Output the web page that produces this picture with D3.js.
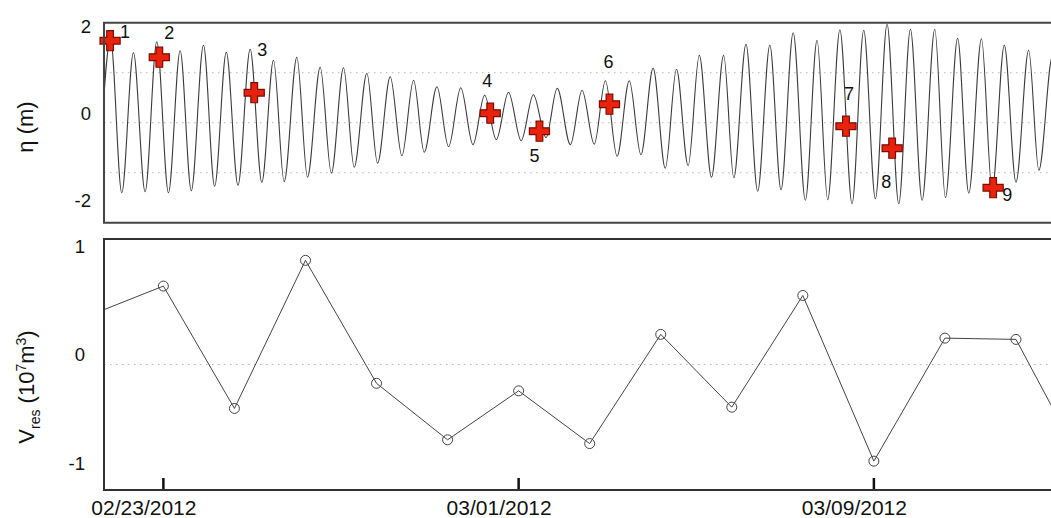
<!DOCTYPE html>
<html>
<head>
<meta charset="utf-8">
<script src="https://cdn.jsdelivr.net/npm/d3@7"></script>
<style>
  html, body { margin: 0; padding: 0; background: #fff; }
  svg { display: block; font-family: "Liberation Sans", Arial, Helvetica, sans-serif; }
</style>
</head>
<body>
<svg id="chart" width="1051" height="518"></svg>
<script>
// ---- data -------------------------------------------------------------
// time axis in days after 02/23/2012 00:00
const dateTickDays = [0, 7, 14];
const dateTickLabels = ["02/23/2012", "03/01/2012", "03/09/2012"];

// water level extrema (high / low waters), days and metres
const tideDays = [
  -1.28, -1.04, -0.82, -0.59, -0.36, -0.13, 0.10, 0.33, 0.55, 0.79,
  1.01, 1.24, 1.47, 1.71, 1.94, 2.17, 2.38, 2.63, 2.84, 3.09,
  3.31, 3.55, 3.76, 4.01, 4.22, 4.47, 4.70, 4.93, 5.14, 5.39,
  5.62, 5.86, 6.10, 6.33, 6.56, 6.80, 7.05, 7.29, 7.54, 7.76,
  8.02, 8.25, 8.49, 8.71, 8.94, 9.18, 9.41, 9.65, 9.89, 10.11,
  10.34, 10.56, 10.80, 11.04, 11.24, 11.48, 11.71, 11.95, 12.17, 12.41,
  12.65, 12.88, 13.09, 13.33, 13.57, 13.80, 14.03, 14.26, 14.49, 14.72,
  14.95, 15.20, 15.41, 15.65, 15.87, 16.12, 16.33, 16.57, 16.80, 17.05,
  17.25, 17.52, 17.75
];
const tideLevel = [
  -1.30, 1.66, -1.40, 1.40, -1.38, 1.62, -1.40, 1.44, -1.36, 1.55,
  -1.27, 1.41, -1.25, 1.47, -1.19, 1.25, -1.18, 1.31, -1.09, 1.11,
  -1.01, 1.10, -0.89, 0.99, -0.81, 0.92, -0.66, 0.85, -0.59, 0.72,
  -0.48, 0.70, -0.44, 0.55, -0.34, 0.61, -0.36, 0.56, -0.30, 0.69,
  -0.44, 0.65, -0.43, 0.84, -0.67, 0.84, -0.64, 1.09, -0.91, 1.07,
  -0.86, 1.35, -1.09, 1.35, -1.10, 1.57, -1.37, 1.55, -1.34, 1.80,
  -1.55, 1.65, -1.54, 1.86, -1.62, 1.85, -1.52, 1.97, -1.62, 1.87,
  -1.55, 1.87, -1.50, 1.69, -1.41, 1.68, -1.35, 1.55, -1.19, 1.45,
  -0.95, 1.33, -0.90
];

// numbered sampling instants on the water level record
const sampleIds = ["1", "2", "3", "4", "5", "6", "7", "8", "9"];
const sampleDays = [-1.05, -0.08, 1.79, 6.44, 7.41, 8.79, 13.45, 14.36, 16.35];
const sampleLevel = [1.64, 1.31, 0.60, 0.19, -0.17, 0.37, -0.07, -0.51, -1.30];

// residual volume per tidal interval (10^7 m^3)
const volDays = [-1.4, 0, 1.4, 2.8, 4.2, 5.6, 7.0, 8.4, 9.8, 11.2, 12.6, 14.0, 15.4, 16.8, 18.2];
const volRes = [0.40, 0.625, -0.35, 0.83, -0.15, -0.60, -0.21, -0.63, 0.24, -0.34, 0.55, -0.77, 0.21, 0.20, -0.86];

const etaTicks = [-2, 0, 2];
const etaGrid = [-1, 0, 1];
const volTicks = [-1, 0, 1];
const volGrid = [0];

// ---- layout -------------------------------------------------------------
// label placement around each numbered marker (px)
const sampleLabelOffsets = [[15, -9], [10, -25], [8, -43], [-3, -33], [-5, 24], [-1, -43], [3, -33], [-6, 33], [14, 7]];

const left = 104, right = 1051;
const top1 = 22.7, bottom1 = 222.7;
const top2 = 239, bottom2 = 490;

const svg = d3.select("#chart");

const x = d3.scaleLinear().domain([-1.17, 17.49]).range([left, right]);
const yEta = d3.scaleLinear().domain([-2, 2]).range([bottom1, top1]);
const yVol = d3.scaleLinear().domain([-1, 1]).range([bottom2, top2]);
// tick text sits on its own slightly compressed ladder
const yEtaText = d3.scaleLinear().domain([-2, 2]).range([200, 26]);
const yVolText = d3.scaleLinear().domain([-1, 1]).range([463, 246]);

const defs = svg.append("defs");
defs.append("clipPath").attr("id", "clipTop").append("rect")
  .attr("x", left).attr("y", top1).attr("width", right - left + 20).attr("height", bottom1 - top1);
defs.append("clipPath").attr("id", "clipBot").append("rect")
  .attr("x", left).attr("y", top2).attr("width", right - left + 20).attr("height", bottom2 - top2);

// ---- top panel: water level -------------------------------------------
const gTop = svg.append("g");
gTop.selectAll("line.grid").data(etaGrid).join("line")
  .attr("class", "grid")
  .attr("x1", left).attr("x2", right)
  .attr("y1", d => yEta(d)).attr("y2", d => yEta(d))
  .attr("stroke", "#b8b8b8").attr("stroke-width", 1).attr("stroke-dasharray", "1.5,4.5");

const tide = tideDays.map((d, i) => [d, tideLevel[i]]);
gTop.append("path")
  .attr("clip-path", "url(#clipTop)")
  .attr("d", d3.line().x(d => x(d[0])).y(d => yEta(d[1])).curve(d3.curveMonotoneX)(tide))
  .attr("fill", "none").attr("stroke", "#3a3a3a").attr("stroke-width", 1.1);

const cross = d3.symbol().type(d3.symbolCross).size(225);
gTop.selectAll("path.sample").data(sampleDays).join("path")
  .attr("class", "sample")
  .attr("transform", (d, i) => `translate(${x(d)},${yEta(sampleLevel[i])})`)
  .attr("d", cross)
  .attr("fill", "#e8220c").attr("stroke", "#7a0c02").attr("stroke-width", 1.2);

gTop.selectAll("text.sample").data(sampleIds).join("text")
  .attr("class", "sample")
  .attr("x", (d, i) => x(sampleDays[i]) + sampleLabelOffsets[i][0])
  .attr("y", (d, i) => yEta(sampleLevel[i]) + sampleLabelOffsets[i][1])
  .attr("dy", "0.36em").attr("text-anchor", "middle")
  .attr("font-size", 18).attr("fill", "#111")
  .text(d => d);

gTop.selectAll("text.ytick").data(etaTicks).join("text")
  .attr("class", "ytick")
  .attr("x", 91).attr("y", d => yEtaText(d)).attr("dy", "0.36em")
  .attr("text-anchor", "end").attr("font-size", 18.5).attr("fill", "#111")
  .text(d => d);

gTop.append("text")
  .attr("transform", "translate(25,127) rotate(-90)")
  .attr("text-anchor", "middle").attr("dy", "0.36em")
  .attr("font-size", 22).attr("fill", "#111")
  .text("η (m)");

// frame
gTop.append("path")
  .attr("d", `M${right + 5},${top1}H${left}V${bottom1}H${right + 5}`)
  .attr("fill", "none").attr("stroke", "#444").attr("stroke-width", 2);

// ---- bottom panel: residual volume -------------------------------------
const gBot = svg.append("g");
gBot.selectAll("line.grid").data(volGrid).join("line")
  .attr("class", "grid")
  .attr("x1", left).attr("x2", right)
  .attr("y1", d => yVol(d)).attr("y2", d => yVol(d))
  .attr("stroke", "#b8b8b8").attr("stroke-width", 1).attr("stroke-dasharray", "1.5,4.5");

const vol = volDays.map((d, i) => [d, volRes[i]]);
const gPlot = gBot.append("g").attr("clip-path", "url(#clipBot)");
gPlot.append("path")
  .attr("d", d3.line().x(d => x(d[0])).y(d => yVol(d[1]))(vol))
  .attr("fill", "none").attr("stroke", "#444").attr("stroke-width", 1);
gPlot.selectAll("circle").data(vol).join("circle")
  .attr("cx", d => x(d[0])).attr("cy", d => yVol(d[1])).attr("r", 5)
  .attr("fill", "none").attr("stroke", "#444").attr("stroke-width", 1);

gBot.selectAll("text.ytick").data(volTicks).join("text")
  .attr("class", "ytick")
  .attr("x", 85).attr("y", d => yVolText(d)).attr("dy", "0.36em")
  .attr("text-anchor", "end").attr("font-size", 18.5).attr("fill", "#111")
  .text(d => d);

const vTitle = gBot.append("text")
  .attr("transform", "translate(26,387) rotate(-90)")
  .attr("text-anchor", "middle").attr("dy", "0.36em")
  .attr("font-size", 22).attr("fill", "#111");
vTitle.append("tspan").text("V");
vTitle.append("tspan").attr("font-size", 14).attr("dy", 6).text("res");
vTitle.append("tspan").attr("dy", -6).text(" (10");
vTitle.append("tspan").attr("font-size", 14).attr("dy", -8).text("7");
vTitle.append("tspan").attr("dy", 8).text("m");
vTitle.append("tspan").attr("font-size", 14).attr("dy", -8).text("3");
vTitle.append("tspan").attr("dy", 8).text(")");

// date ticks
const xAxis = d3.axisBottom(x).tickValues(dateTickDays).tickSize(0).tickFormat((d, i) => dateTickLabels[i]);
const gx = gBot.append("g").attr("transform", `translate(0,${bottom2})`).call(xAxis);
gx.select(".domain").remove();
gx.selectAll(".tick text")
  .attr("font-family", "Liberation Sans, Arial, sans-serif")
  .attr("font-size", 21).attr("fill", "#111")
  .attr("dx", -20).attr("y", 9).attr("dy", "0.75em");
gBot.selectAll("line.dtick").data(dateTickDays).join("line")
  .attr("class", "dtick")
  .attr("x1", d => x(d)).attr("x2", d => x(d))
  .attr("y1", bottom2).attr("y2", bottom2 - 12)
  .attr("stroke", "#111").attr("stroke-width", 2.5);

gBot.append("path")
  .attr("d", `M${right + 5},${top2}H${left}V${bottom2}H${right + 5}`)
  .attr("fill", "none").attr("stroke", "#333").attr("stroke-width", 2);
</script>
</body>
</html>
